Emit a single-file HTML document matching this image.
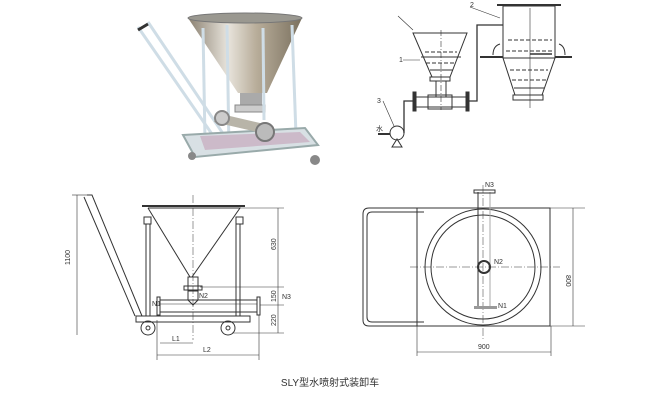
<!DOCTYPE html>
<html><head><meta charset="utf-8"><style>
html,body{margin:0;padding:0;background:#fff;}
svg{display:block;font-family:"Liberation Sans","Noto Sans CJK SC",sans-serif;}
</style></head><body>
<svg width="660" height="400" viewBox="0 0 660 400" xmlns="http://www.w3.org/2000/svg">
<defs>
<linearGradient id="cone" x1="0" x2="1" y1="0" y2="0">
<stop offset="0" stop-color="#8a8070"/><stop offset="0.35" stop-color="#e8e4dc"/><stop offset="0.6" stop-color="#b8ad9a"/><stop offset="1" stop-color="#7a705e"/>
</linearGradient>
</defs>
<!-- PHOTO -->
<g>
<path d="M188 18 L302 18 L267 93 L238 93 Z" fill="url(#cone)"/>
<ellipse cx="245" cy="18" rx="57" ry="5" fill="#9a9890" stroke="#777" stroke-width="1"/>
<rect x="240" y="93" width="22" height="12" fill="#aaa"/>
<rect x="235" y="105" width="30" height="7" fill="#ccc" stroke="#888"/>
<g stroke="#cfdde6" stroke-width="3" fill="none">
<line x1="203" y1="28" x2="205" y2="140"/>
<line x1="227" y1="25" x2="229" y2="150"/>
<line x1="263" y1="28" x2="264" y2="120"/>
<line x1="292" y1="25" x2="296" y2="135"/>
<line x1="138" y1="27" x2="223" y2="150"/>
<line x1="148" y1="22" x2="232" y2="147"/>
</g>
<line x1="138" y1="30" x2="148" y2="24" stroke="#333" stroke-width="3"/>
<path d="M183 135 L305 128 L318 145 L195 157 Z" fill="#d8e0e4" stroke="#9aa" stroke-width="2"/>
<path d="M200 136 L300 132 L310 142 L205 150 Z" fill="#c4a0b8" opacity="0.6"/>
<path d="M217 113 L273 126 L270 135 L214 122 Z" fill="#b8b4a8"/>
<circle cx="265" cy="132" r="9" fill="#bbb" stroke="#777" stroke-width="2"/>
<circle cx="222" cy="118" r="7" fill="#ccc" stroke="#888" stroke-width="2"/>
<circle cx="192" cy="156" r="4" fill="#888"/>
<circle cx="315" cy="160" r="5" fill="#888"/>
</g>

<!-- TOP RIGHT SCHEMATIC -->
<g stroke="#333" stroke-width="1" fill="none">
<path d="M413 33 L467 33 L450 77 L432 77 Z"/>
<line x1="441" y1="30" x2="441" y2="110" stroke-dasharray="6 2 1 2" stroke-width="0.6"/>
<line x1="425" y1="52" x2="457" y2="52" stroke-dasharray="4 2"/>
<line x1="421" y1="57" x2="461" y2="57"/>
<line x1="426" y1="63" x2="456" y2="63" stroke-dasharray="4 2"/>
<line x1="430" y1="70" x2="453" y2="70"/>
<rect x="430" y="77" width="20" height="4"/>
<line x1="436" y1="81" x2="436" y2="97"/><line x1="446" y1="81" x2="446" y2="97"/>
<line x1="414" y1="97" x2="467" y2="97"/><line x1="414" y1="107" x2="467" y2="107"/>
<rect x="428" y="95" width="24" height="14"/>
<rect x="413" y="92" width="3" height="19" fill="#333"/>
<rect x="466" y="92" width="3" height="19" fill="#333"/>
<path d="M469 101 L477 101 L477 25 L503 25" stroke-width="1.3"/>
<path d="M413 101 L404 101 L404 133" stroke-width="1.3"/>
<rect x="503" y="6" width="52" height="52"/>
<line x1="497" y1="5" x2="561" y2="5" stroke-width="2"/>
<line x1="530" y1="8" x2="530" y2="108" stroke-width="0.6"/>
<line x1="508" y1="40" x2="552" y2="40" stroke-dasharray="4 2"/>
<line x1="506" y1="51" x2="552" y2="51" stroke-dasharray="4 2"/>
<line x1="530" y1="54" x2="552" y2="54" stroke-width="1.5"/>
<path d="M480 57 L503 57 M555 57 L572 57" stroke-width="2"/>
<path d="M493 55 Q493 46 500 44 M565 55 Q565 46 559 44"/>
<path d="M503 58 L555 58 L542 95 L515 95 Z"/>
<line x1="510" y1="70" x2="548" y2="70" stroke-dasharray="4 2"/>
<line x1="512" y1="80" x2="546" y2="80" stroke-dasharray="4 2"/>
<line x1="514" y1="88" x2="544" y2="88"/>
<rect x="513" y="95" width="30" height="5"/>
<circle cx="397" cy="133" r="7"/>
<path d="M392 147 L397 139 L402 147 Z"/>
<line x1="378" y1="134" x2="390" y2="134" stroke-width="2"/>
<line x1="398" y1="16" x2="413" y2="30" stroke-width="0.6"/>
<line x1="403" y1="60" x2="420" y2="60" stroke-width="0.6"/>
<line x1="383" y1="101" x2="394" y2="126" stroke-width="0.6"/>
<line x1="470" y1="7" x2="500" y2="18" stroke-width="0.6"/>
</g>
<g font-size="7" fill="#333">
<text x="470" y="7">2</text><text x="399" y="62">1</text><text x="377" y="103">3</text><text x="376" y="131">水</text>
</g>

<!-- LEFT DRAWING -->
<g stroke="#333" stroke-width="1" fill="none">
<line x1="142" y1="206" x2="245" y2="206" stroke-width="2"/>
<path d="M148 208 L240 208 L192 277"/><path d="M148 208 L190 277"/>
<rect x="144" y="217" width="7" height="7"/><rect x="236" y="217" width="7" height="7"/>
<line x1="146" y1="224" x2="146" y2="316"/><line x1="150" y1="224" x2="150" y2="316"/>
<line x1="236" y1="224" x2="236" y2="316"/><line x1="240" y1="224" x2="240" y2="316"/>
<path d="M87 195 L92 195 L142 316 M84 197 L135 316"/>
<line x1="72" y1="195" x2="88" y2="195" stroke-width="0.6"/>
<rect x="136" y="316" width="114" height="6"/>
<circle cx="148" cy="328" r="7"/><circle cx="148" cy="328" r="2"/>
<circle cx="228" cy="328" r="7"/><circle cx="228" cy="328" r="2"/>
<rect x="188" y="277" width="10" height="14"/>
<rect x="184" y="286" width="18" height="4"/>
<path d="M188 291 L188 300 L193 305 L198 300 L198 291"/>
<line x1="160" y1="300" x2="257" y2="300"/><line x1="160" y1="312" x2="257" y2="312"/>
<line x1="160" y1="304" x2="257" y2="304" stroke-width="0.5"/>
<rect x="157" y="297" width="3" height="18"/><rect x="257" y="297" width="3" height="18"/>
<line x1="193" y1="195" x2="193" y2="340" stroke-dasharray="8 2 1 2" stroke-width="0.5"/>
<g stroke-width="0.6">
<line x1="77" y1="195" x2="77" y2="335"/>
<line x1="278" y1="208" x2="278" y2="333"/>
<line x1="240" y1="208" x2="284" y2="208"/>
<line x1="200" y1="287" x2="284" y2="287"/>
<line x1="260" y1="305" x2="284" y2="305"/>
<line x1="232" y1="333" x2="284" y2="333"/>
<line x1="160" y1="343" x2="193" y2="343"/>
<line x1="157" y1="355" x2="259" y2="355"/>
<line x1="157" y1="320" x2="157" y2="360"/><line x1="259" y1="315" x2="259" y2="360"/>
</g>
</g>
<g font-size="7" fill="#333">
<text transform="translate(70 265) rotate(-90)">1100</text>
<text transform="translate(276 250) rotate(-90)">630</text>
<text transform="translate(276 302) rotate(-90)">150</text>
<text transform="translate(276 326) rotate(-90)">220</text>
<text x="282" y="299">N3</text><text x="199" y="298">N2</text><text x="152" y="306">N1</text>
<text x="172" y="341">L1</text><text x="203" y="352">L2</text>
</g>

<!-- RIGHT DRAWING -->
<g stroke="#333" stroke-width="1" fill="none">
<rect x="417" y="208" width="133" height="118"/>
<path d="M424 208 L369 208 Q363 208 363 214 L363 320 Q363 326 369 326 L424 326"/>
<path d="M424 212 L372 212 Q367 212 367 217 L367 317 Q367 322 372 322 L424 322"/>
<circle cx="483" cy="267" r="58"/><circle cx="483" cy="267" r="52"/>
<line x1="410" y1="267" x2="560" y2="267" stroke-dasharray="8 2 1 2" stroke-width="0.5"/>
<line x1="483" y1="185" x2="483" y2="340" stroke-dasharray="8 2 1 2" stroke-width="0.5"/>
<line x1="478" y1="192" x2="478" y2="306"/><line x1="490" y1="192" x2="490" y2="306" stroke="#aaa"/>
<rect x="474" y="190" width="21" height="3"/>
<rect x="474" y="306" width="23" height="3" fill="#999" stroke="none"/>
<circle cx="484" cy="267" r="6" stroke-width="2"/>
<g stroke-width="0.6">
<line x1="573" y1="208" x2="573" y2="326"/>
<line x1="550" y1="208" x2="585" y2="208"/><line x1="550" y1="326" x2="585" y2="326"/>
<line x1="417" y1="326" x2="417" y2="356"/><line x1="551" y1="326" x2="551" y2="356"/>
<line x1="417" y1="352" x2="551" y2="352"/>
</g>
</g>
<g font-size="7" fill="#333">
<text x="485" y="187">N3</text><text x="494" y="264">N2</text><text x="498" y="308">N1</text>
<text transform="translate(566 275) rotate(90)">800</text>
<text x="478" y="349">900</text>
</g>

<text x="330" y="386" font-size="10" fill="#333" text-anchor="middle">SLY型水喷射式装卸车</text>
</svg>
</body></html>
